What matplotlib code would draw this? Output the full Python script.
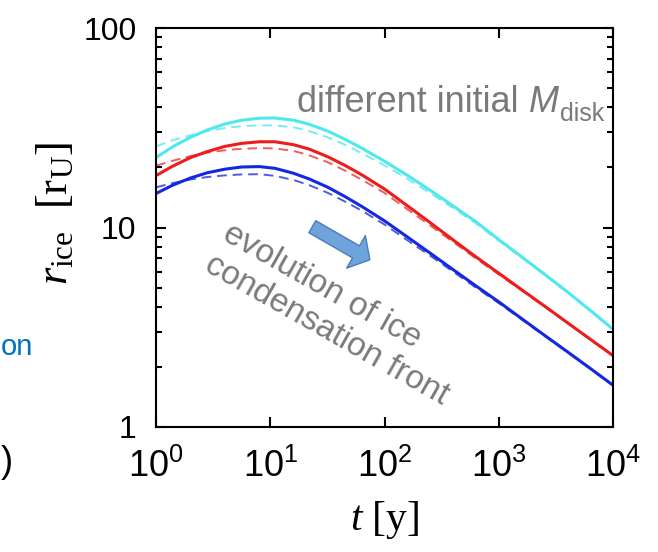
import numpy as np
import matplotlib
matplotlib.use("Agg")
import matplotlib.pyplot as plt
from matplotlib import ticker, font_manager

# time [y] and r_ice [r_U]
t = [1, 1.4, 2, 2.8, 4, 5.6, 8, 11, 16, 22, 32, 45, 64, 100, 160, 250, 400, 630,
     1000, 1600, 2500, 4000, 6300, 10000]

cyan_solid = [22.4, 25.4, 28.3, 30.8, 33.0, 34.5, 35.3, 35.4, 34.5, 32.9, 30.4, 27.7,
              24.9, 21.5, 18.2, 15.4, 12.8, 10.7, 8.7, 7.1, 5.85, 4.75, 3.85, 3.09]
cyan_dashed = [25.5, 27.4, 29.0, 30.4, 31.5, 32.2, 32.5, 32.5, 31.8, 30.4, 28.3, 26.0,
               23.5, 20.5, 17.5, 14.9, 12.5, 10.5, 8.6, 7.05, 5.8, 4.73, 3.84, 3.08]
red_solid = [18.2, 20.3, 22.4, 24.0, 25.5, 26.4, 26.9, 26.9, 26.0, 24.7, 22.6, 20.5,
             18.3, 15.6, 12.8, 10.6, 8.65, 7.13, 5.9, 4.86, 4.05, 3.33, 2.76, 2.28]
red_dashed = [20.4, 21.6, 22.8, 23.7, 24.4, 24.8, 25.0, 24.9, 24.2, 23.0, 21.2, 19.3,
              17.3, 14.9, 12.3, 10.25, 8.45, 7.0, 5.82, 4.82, 4.02, 3.32, 2.75, 2.27]
blue_solid = [14.8, 16.3, 17.7, 18.8, 19.6, 20.1, 20.2, 19.8, 18.7, 17.5, 15.9, 14.3,
              12.7, 10.8, 8.93, 7.45, 6.14, 5.1, 4.24, 3.48, 2.89, 2.38, 1.97, 1.62]
blue_dashed = [15.9, 16.7, 17.4, 17.9, 18.25, 18.45, 18.5, 18.15, 17.3, 16.3, 14.9, 13.5,
               12.1, 10.35, 8.6, 7.23, 6.0, 5.0, 4.18, 3.45, 2.87, 2.37, 1.96, 1.615]

xticks = [1, 10, 100, 1000, 10000]
yticks = [1, 10, 100]

names = {f.name for f in font_manager.fontManager.ttflist}
narrow = "Liberation Sans Narrow" if "Liberation Sans Narrow" in names else "Liberation Sans"

plt.rcParams["font.family"] = ["Liberation Sans", "DejaVu Sans"]
plt.rcParams["mathtext.fontset"] = "custom"
plt.rcParams["mathtext.rm"] = "Liberation Serif"
plt.rcParams["mathtext.it"] = "Liberation Serif:italic"
plt.rcParams["mathtext.sf"] = narrow

fig = plt.figure(figsize=(6.58, 5.52), dpi=100)
ax = fig.add_axes([156 / 658, 1 - 427 / 552, 457 / 658, 399 / 552])

# solid and dashed pairs
ax.plot(t, cyan_dashed, color="#5EEAF0", lw=1.4, ls=(0, (5, 3)), alpha=0.85)
ax.plot(t, red_dashed, color="#EE3333", lw=1.4, ls=(0, (5, 3)), alpha=0.8)
ax.plot(t, blue_dashed, color="#2233DD", lw=1.4, ls=(0, (5, 3)), alpha=0.8)
ax.plot(t, cyan_solid, color="#4EE8EE", lw=2.2)
ax.plot(t, red_solid, color="#EE1C1C", lw=2.2)
ax.plot(t, blue_solid, color="#1428E0", lw=2.2)

ax.set_xscale("log")
ax.set_yscale("log")
ax.set_xlim(1, 1e4)
ax.set_ylim(1, 100)
ax.set_xticks(xticks)
ax.set_yticks(yticks)
ax.xaxis.set_major_formatter(ticker.FuncFormatter(
    lambda v, p: r"$\mathsf{10^{%d}}$" % round(np.log10(v))))
ax.yaxis.set_major_formatter(ticker.FuncFormatter(lambda v, p: "%g" % v))
ax.xaxis.set_minor_formatter(ticker.NullFormatter())
ax.yaxis.set_minor_formatter(ticker.NullFormatter())

for s in ax.spines.values():
    s.set_linewidth(1.5)
ax.tick_params(which="both", direction="in", top=True, right=True, width=1.5)
ax.tick_params(which="major", length=7.5)
ax.tick_params(which="minor", length=4.5)
ax.tick_params(axis="x", which="major", pad=16, labelsize=26)
ax.tick_params(axis="y", which="major", pad=14, labelsize=23)

ax.set_xlabel(r"$t\ [\mathrm{y}]$", fontsize=30, labelpad=10)
ax.set_ylabel(r"$r_{\mathrm{ice}}\ \ [\mathrm{r_U}]$", fontsize=32)
ax.yaxis.set_label_coords(-0.175, 0.535)

gray = "#7a7a7a"
t1 = ax.text(0.309, 0.789, "different initial ", transform=ax.transAxes,
             fontsize=26, color=gray, va="baseline", ha="left")
t2 = ax.annotate("M", xy=(1, 0), xycoords=t1, fontsize=26, color=gray,
                 style="italic", va="bottom", ha="left")
ax.annotate("disk", xy=(1, 0), xycoords=t2, xytext=(1, -4), textcoords="offset points",
            fontsize=18, color=gray, va="bottom", ha="left")

# va="baseline" on a two-line text anchors the last line
ax.text(0.1085, 0.403, "evolution of ice\ncondensation front", transform=ax.transAxes,
        fontsize=24, color=gray, rotation=-29.5, rotation_mode="anchor",
        ha="left", va="baseline", multialignment="left")

ax.annotate("", xy=(0.468, 0.419), xytext=(0.342, 0.502), xycoords="axes fraction",
            arrowprops=dict(arrowstyle="simple,head_length=1.15,head_width=2.7,tail_width=1.0",
                            mutation_scale=10, fc="#6FA3DC", ec="#4A7DB8", lw=1,
                            shrinkA=0, shrinkB=0))

# slide text at the left edge
fig.text(1 / 658, 1 - 347 / 552, "on", color="#0070C0", fontsize=21,
         ha="left", va="center")
fig.text(1 / 658, 1 - 463 / 552, ")", color="black", fontsize=26,
         ha="left", va="center")

fig.savefig("out.png", dpi=100)
